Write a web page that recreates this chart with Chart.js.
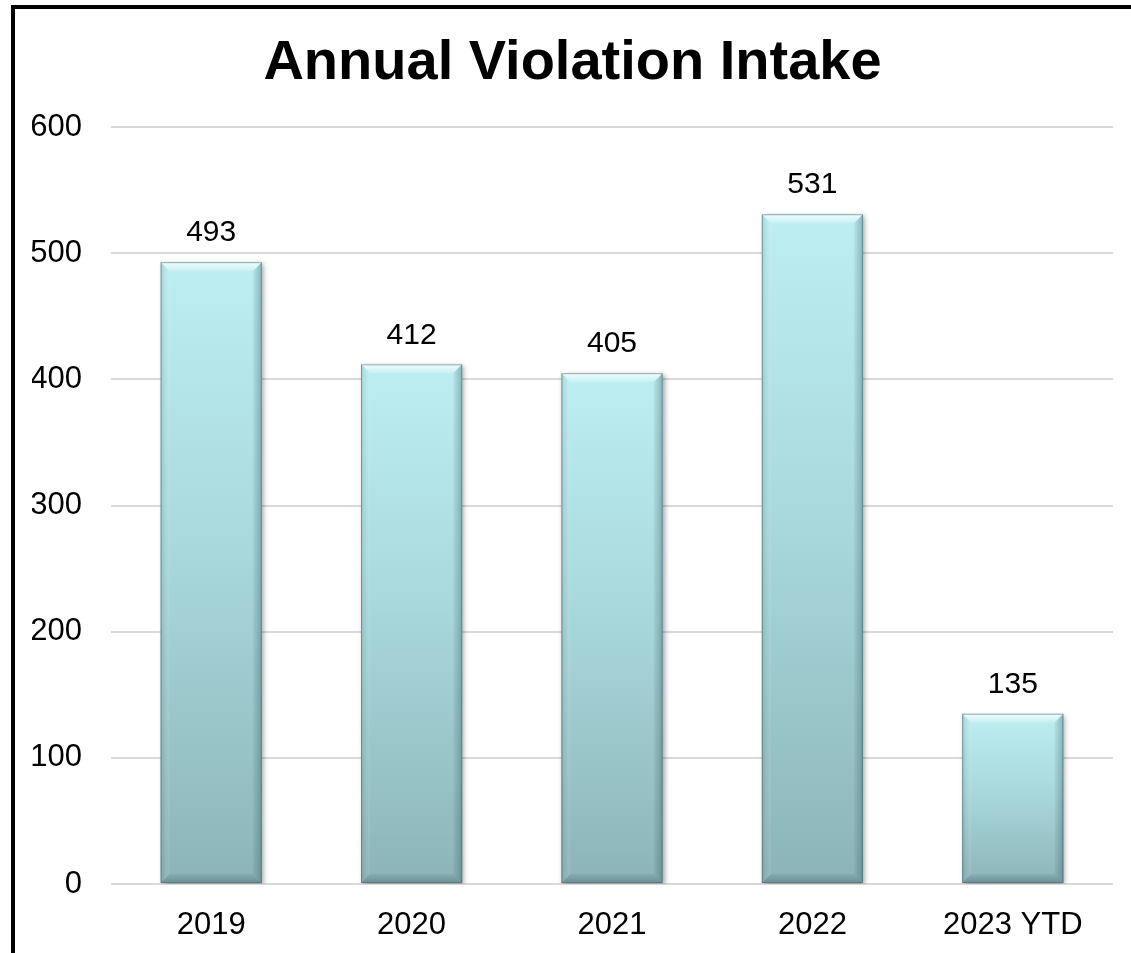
<!DOCTYPE html>
<html>
<head>
<meta charset="utf-8">
<title>Annual Violation Intake</title>
<script src="https://cdn.jsdelivr.net/npm/chart.js@4.4.1/dist/chart.umd.min.js"></script>
<style>
  html, body { margin: 0; padding: 0; background: #fff; overflow: hidden; }
  .frame {
    position: absolute;
    left: 11px; top: 5px;
    width: 1116px; height: 944px;
    border-left: 4px solid #000;
    border-top: 4px solid #000;
  }
  .frame canvas { display: block; }
</style>
</head>
<body>
<div class="frame">
  <canvas id="intakeChart" width="1116" height="944"></canvas>
</div>
<script>
const years = ['2019', '2020', '2021', '2022', '2023 YTD'];
const intake = [493, 412, 405, 531, 135];
const yTicks = [0, 100, 200, 300, 400, 500, 600];

const FONT = "'Liberation Sans', Arial, Helvetica, sans-serif";

// vertical gradient per bar, light cyan at the top fading to grey teal at the base
function barFill(context) {
    const chart = context.chart;
    const yScale = chart.scales.y;
    if (!yScale || !context.parsed) return '#a6d4d8';
    const top = yScale.getPixelForValue(context.parsed.y);
    const base = yScale.getPixelForValue(0);
    if (!isFinite(top) || !isFinite(base) || top === base) return '#a6d4d8';
    const g = chart.ctx.createLinearGradient(0, top, 0, base);
    g.addColorStop(0, '#bdeef2');
    g.addColorStop(0.45, '#a9d9dd');
    g.addColorStop(1, '#8cb4b8');
    return g;
}

// soft shadow under the bars
const barShadow = {
    id: 'barShadow',
    beforeDatasetsDraw(chart) {
        const ctx = chart.ctx;
        ctx.save();
        ctx.shadowColor = 'rgba(0, 0, 0, 0.35)';
        ctx.shadowBlur = 5;
        ctx.shadowOffsetX = 2;
        ctx.shadowOffsetY = 2;
    },
    afterDatasetsDraw(chart) {
        chart.ctx.restore();
    }
};

// bevelled edges on each bar
const barBevel = {
    id: 'barBevel',
    afterDatasetsDraw(chart) {
        const ctx = chart.ctx;
        const b = 9;
        chart.getDatasetMeta(0).data.forEach(bar => {
            const L = bar.x - bar.width / 2;
            const R = bar.x + bar.width / 2;
            const T = bar.y;
            const B = bar.base;
            if (![L, R, T, B].every(isFinite)) return;
            ctx.save();

            // top face
            const tg = ctx.createLinearGradient(0, T, 0, T + b);
            tg.addColorStop(0, 'rgba(255, 255, 255, 0.8)');
            tg.addColorStop(1, 'rgba(255, 255, 255, 0.15)');
            ctx.fillStyle = tg;
            ctx.beginPath();
            ctx.moveTo(L, T); ctx.lineTo(R, T); ctx.lineTo(R - b, T + b); ctx.lineTo(L + b, T + b);
            ctx.closePath(); ctx.fill();

            // left face
            const lg = ctx.createLinearGradient(L, 0, L + b, 0);
            lg.addColorStop(0, 'rgba(40, 80, 85, 0.18)');
            lg.addColorStop(1, 'rgba(255, 255, 255, 0.08)');
            ctx.fillStyle = lg;
            ctx.beginPath();
            ctx.moveTo(L, T); ctx.lineTo(L + b, T + b); ctx.lineTo(L + b, B - b); ctx.lineTo(L, B);
            ctx.closePath(); ctx.fill();

            // right face
            const rg = ctx.createLinearGradient(R - b, 0, R, 0);
            rg.addColorStop(0, 'rgba(40, 80, 85, 0.05)');
            rg.addColorStop(1, 'rgba(40, 80, 85, 0.35)');
            ctx.fillStyle = rg;
            ctx.beginPath();
            ctx.moveTo(R, T); ctx.lineTo(R, B); ctx.lineTo(R - b, B - b); ctx.lineTo(R - b, T + b);
            ctx.closePath(); ctx.fill();

            // bottom face
            const bg = ctx.createLinearGradient(0, B - b, 0, B);
            bg.addColorStop(0, 'rgba(40, 80, 85, 0.08)');
            bg.addColorStop(1, 'rgba(40, 80, 85, 0.35)');
            ctx.fillStyle = bg;
            ctx.beginPath();
            ctx.moveTo(L, B); ctx.lineTo(L + b, B - b); ctx.lineTo(R - b, B - b); ctx.lineTo(R, B);
            ctx.closePath(); ctx.fill();

            ctx.strokeStyle = 'rgba(70, 105, 110, 0.55)';
            ctx.lineWidth = 1;
            ctx.strokeRect(L + 0.5, T + 0.5, R - L - 1, B - T - 1);
            ctx.restore();
        });
    }
};

// value printed above each bar
const valueLabels = {
    id: 'valueLabels',
    afterDatasetsDraw(chart) {
        const ctx = chart.ctx;
        const ds = chart.data.datasets[0];
        ctx.save();
        ctx.font = '30px ' + FONT;
        ctx.fillStyle = '#000';
        ctx.textAlign = 'center';
        ctx.textBaseline = 'middle';
        chart.getDatasetMeta(0).data.forEach((bar, i) => {
            ctx.fillText(String(ds.data[i]), bar.x, bar.y - 29);
        });
        ctx.restore();
    }
};

const ctx = document.getElementById('intakeChart').getContext('2d');
new Chart(ctx, {
    type: 'bar',
    data: {
        labels: years,
        datasets: [{
            label: 'Violations',
            data: intake,
            backgroundColor: barFill,
            borderWidth: 0,
            categoryPercentage: 1,
            barPercentage: 0.505
        }]
    },
    options: {
        responsive: false,
        animation: false,
        devicePixelRatio: 1,
        layout: { padding: { left: 17, right: 18, bottom: 0 } },
        plugins: {
            legend: { display: false },
            tooltip: { enabled: false },
            title: {
                display: true,
                text: 'Annual Violation Intake',
                color: '#000',
                font: { family: FONT, size: 56, weight: 'bold' },
                padding: { top: 21, bottom: 30 }
            }
        },
        scales: {
            x: {
                grid: { display: false },
                border: { display: false },
                afterFit(scale) { scale.height = 69; },
                ticks: {
                    color: '#000',
                    font: { family: FONT, size: 31 },
                    padding: 15,
                    maxRotation: 0
                }
            },
            y: {
                min: 0,
                max: 600,
                afterBuildTicks(scale) {
                    scale.ticks = yTicks.map(v => ({ value: v }));
                },
                afterFit(scale) { scale.width = 79; },
                grid: { color: '#d9d9d9', lineWidth: 2, drawTicks: false },
                border: { display: false },
                ticks: {
                    color: '#000',
                    font: { family: FONT, size: 31 },
                    padding: 29
                }
            }
        }
    },
    plugins: [barShadow, barBevel, valueLabels]
});
</script>
</body>
</html>
